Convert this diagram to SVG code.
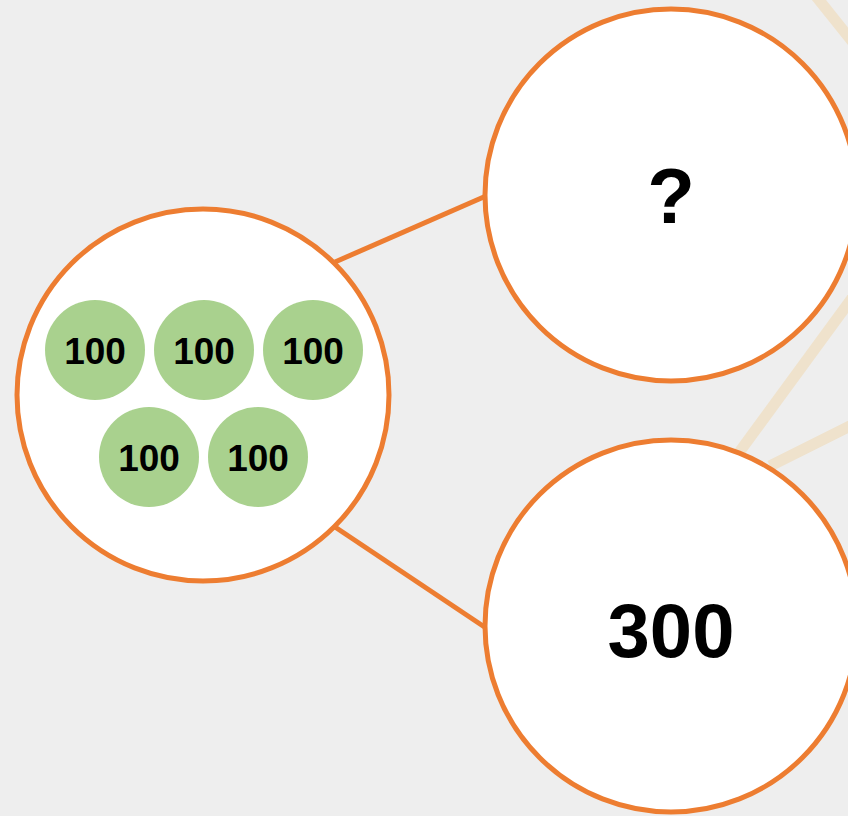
<svg xmlns="http://www.w3.org/2000/svg" width="848" height="816" viewBox="0 0 848 816">
  <style>
    .big { fill: #ffffff; stroke: #ED7D31; stroke-width: 5; }
    .coin { fill: #A9D18E; }
    .coin-t { font-family: "Liberation Sans", Arial, sans-serif; font-weight: bold; font-size: 37px; fill: #000; text-anchor: middle; }
    .big-t { font-family: "Liberation Sans", Arial, sans-serif; font-weight: bold; fill: #000; text-anchor: middle; }
    .conn { stroke: #ED7D31; stroke-width: 5; fill: none; }
    .bg-line { stroke: #EFE2CC; stroke-width: 11; fill: none; }
  </style>
  <rect x="0" y="0" width="848" height="816" fill="#EEEEEE"/>
  <g id="background-lines">
    <line class="bg-line" x1="815" y1="-5" x2="855" y2="45"/>
    <line class="bg-line" x1="858" y1="290" x2="735" y2="458"/>
    <line class="bg-line" x1="858" y1="422" x2="770" y2="466"/>
  </g>
  <g id="connectors">
    <line class="conn" x1="335" y1="262" x2="486" y2="196"/>
    <line class="conn" x1="335" y1="527" x2="486" y2="628"/>
  </g>
  <g id="node-whole">
    <circle class="big" cx="203" cy="395" r="186"/>
    <g id="coin-1"><circle class="coin" cx="95" cy="350" r="50"/><text class="coin-t" x="95" y="364">100</text></g>
    <g id="coin-2"><circle class="coin" cx="204" cy="350" r="50"/><text class="coin-t" x="204" y="364">100</text></g>
    <g id="coin-3"><circle class="coin" cx="313" cy="350" r="50"/><text class="coin-t" x="313" y="364">100</text></g>
    <g id="coin-4"><circle class="coin" cx="149" cy="457" r="50"/><text class="coin-t" x="149" y="471">100</text></g>
    <g id="coin-5"><circle class="coin" cx="258" cy="457" r="50"/><text class="coin-t" x="258" y="471">100</text></g>
  </g>
  <g id="node-unknown">
    <circle class="big" cx="671" cy="195" r="186"/>
    <text class="big-t" x="671" y="223" font-size="78">?</text>
  </g>
  <g id="node-300">
    <circle class="big" cx="671" cy="626" r="186"/>
    <text class="big-t" x="671" y="657" font-size="76">300</text>
  </g>
</svg>
